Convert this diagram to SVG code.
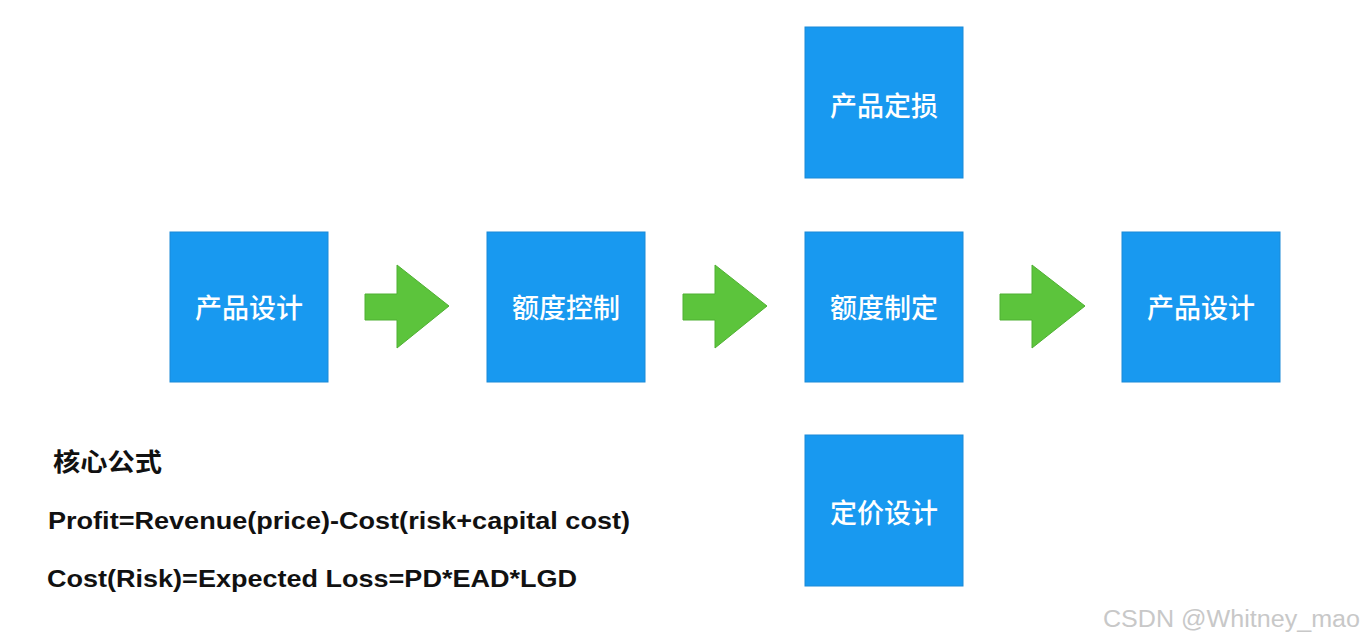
<svg xmlns="http://www.w3.org/2000/svg" width="1365" height="641" viewBox="0 0 1365 641">
<style>
.box{fill:#1899f0;stroke:#1a8ad8;stroke-width:1}
.bt{fill:#ffffff;font-family:"Noto Sans CJK SC","Noto Sans",sans-serif;font-size:27px;font-weight:500;text-anchor:middle;dominant-baseline:central}
.arr{fill:#5cc43c;stroke:#4fb032;stroke-width:1}
.f{fill:#111;font-family:"Liberation Sans",Arial,"Noto Sans CJK SC",sans-serif;font-weight:bold;font-size:24px}
.wm{fill:#c8c8c8;font-family:"Liberation Sans",Arial,sans-serif;font-size:23px}
</style>
<rect width="1365" height="641" fill="#ffffff"/>
<g id="n1"><rect class="box" x="170" y="232" width="158" height="150"/><text class="bt" x="249" y="306">产品设计</text></g>
<g id="n2"><rect class="box" x="487" y="232" width="158" height="150"/><text class="bt" x="566" y="306">额度控制</text></g>
<g id="n3"><rect class="box" x="805" y="232" width="158" height="150"/><text class="bt" x="884" y="306">额度制定</text></g>
<g id="n4"><rect class="box" x="1122" y="232" width="158" height="150"/><text class="bt" x="1201" y="306">产品设计</text></g>
<g id="n5"><rect class="box" x="805" y="27" width="158" height="151"/><text class="bt" x="884" y="104">产品定损</text></g>
<g id="n6"><rect class="box" x="805" y="435" width="158" height="151"/><text class="bt" x="884" y="511">定价设计</text></g>
<g id="connectors">
<polygon class="arr" points="365,294 397,294 397,265 449,306 397,348 397,320 365,320"/>
<polygon class="arr" points="683,294 715,294 715,265 767,306 715,348 715,320 683,320"/>
<polygon class="arr" points="1000,294 1032,294 1032,265 1085,306 1032,348 1032,320 1000,320"/>
</g>
<g id="formulas">
<text x="53" y="471" textLength="109" lengthAdjust="spacingAndGlyphs" style="fill:#111;font-family:'Noto Sans CJK SC',sans-serif;font-size:25px;font-weight:bold">核心公式</text>
<text class="f" x="48" y="529" textLength="582" lengthAdjust="spacingAndGlyphs">Profit=Revenue(price)-Cost(risk+capital cost)</text>
<text class="f" x="47" y="587" textLength="530" lengthAdjust="spacingAndGlyphs">Cost(Risk)=Expected Loss=PD*EAD*LGD</text>
</g>
<text class="wm" x="1103" y="627" textLength="257" lengthAdjust="spacingAndGlyphs">CSDN @Whitney_mao</text>
</svg>
